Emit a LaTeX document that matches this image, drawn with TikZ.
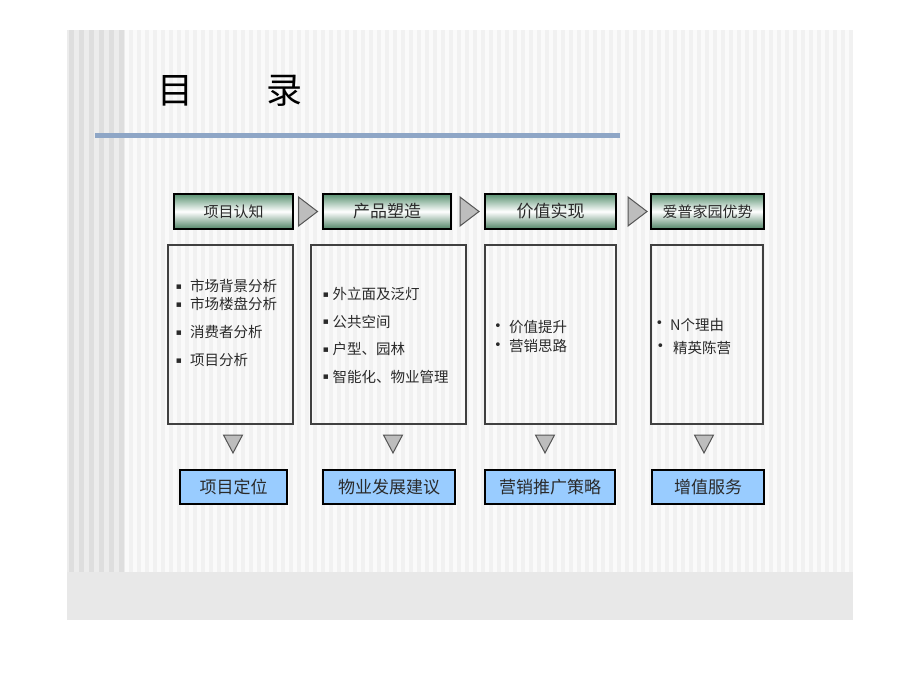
\documentclass[tikz,border=0pt]{standalone}
\usepackage{fontspec}
\setmainfont{Noto Sans CJK SC}
\newfontfamily\sym{DejaVu Sans}
\usetikzlibrary{calc}
\definecolor{hdrgreen}{HTML}{5A9272}
\definecolor{boxblue}{HTML}{99CCFF}
\definecolor{lineblue}{HTML}{8EA6C6}
\definecolor{slidebg}{HTML}{F1F1F1}
\definecolor{stripe}{HTML}{FAFAFA}
\definecolor{leftbg}{HTML}{ECECEC}
\definecolor{leftstripe}{HTML}{DEDEDE}
\definecolor{band}{HTML}{E8E8E8}
\definecolor{txt}{HTML}{2A2A2A}
\definecolor{trifill}{HTML}{BDBDBD}
\definecolor{tridraw}{HTML}{555555}
\begin{document}
\begin{tikzpicture}[x=1pt,y=-1pt,
  hdr/.style={draw=black, line width=2.2pt, top color=hdrgreen, bottom color=hdrgreen!90!black, middle color=white, minimum height=35pt, inner sep=0pt, font=\fontsize{15}{15}\selectfont, text=txt},
  hdrbig/.style={hdr, font=\fontsize{17}{17}\selectfont},
  content/.style={draw=black!75, line width=1.3pt, minimum height=179pt, inner sep=0pt},
  result/.style={draw=black, line width=2.4pt, fill=boxblue, minimum height=34pt, inner sep=0pt, font=\fontsize{17}{17}\selectfont, text=txt},
  item/.style={anchor=west, inner sep=0pt, font=\fontsize{14.5}{14.5}\selectfont, text=txt},
  bul/.style={inner sep=0pt, font=\sym\fontsize{9}{9}\selectfont, text=txt},
  dot/.style={inner sep=0pt, font=\sym\fontsize{13}{13}\selectfont, text=txt},
  tri/.style={fill=trifill, draw=tridraw, line width=1pt, line join=miter},
  titlechar/.style={inner sep=0pt, font=\fontsize{36}{36}\selectfont, text=black}
]
% page
\useasboundingbox (0,0) rectangle (920,690);
\fill[white] (0,0) rectangle (920,690);
% slide background with stripes
\fill[slidebg] (67,30) rectangle (853,572);
\foreach \x in {125,133,...,849} {\fill[stripe] (\x,30) rectangle (\x+3.5,572);}
\fill[leftbg] (67,30) rectangle (125,572);
\foreach \x in {69,79,...,119} {\fill[leftstripe] (\x,30) rectangle (\x+5,572);}
\fill[band] (67,572) rectangle (853,620);
% title
\node[titlechar] (tA) at (175,91) {目};
\node[titlechar] (tB) at (284,91) {录};
\coordinate (lA) at (95,135);
\coordinate (lB) at (620,135);
\draw[lineblue, line width=5pt] (lA) -- (lB);
% header boxes
\node[hdr, minimum width=119pt] (h1) at (233.5,211.5) {项目认知};
\node[hdrbig, minimum width=128pt] (h2) at (387,211.5) {产品塑造};
\node[hdrbig, minimum width=131pt] (h3) at (550.5,211.5) {价值实现};
\node[hdr, minimum width=113pt] (h4) at (707.5,211.5) {爱普家园优势};
% right-pointing triangles
\coordinate (r1) at (308,211.5);
\coordinate (r2) at (469.5,211.5);
\coordinate (r3) at (637.5,211.5);
\foreach \r in {r1,r2,r3} {
  \filldraw[tri] ($(\r)+(-9.5,-14.5)$) -- ($(\r)+(9.5,0)$) -- ($(\r)+(-9.5,14.5)$) -- cycle;
}
% content boxes
\node[content, minimum width=125pt] (c1) at (230.5,334.5) {};
\node[content, minimum width=155pt] (c2) at (388.5,334.5) {};
\node[content, minimum width=131pt] (c3) at (550.5,334.5) {};
\node[content, minimum width=112pt] (c4) at (707,334.5) {};
% box 1 items
\node[bul] (b1a) at (179,287) {▪};
\node[item] (i1a) at (190,286) {市场背景分析};
\node[bul] (b1b) at (179,305) {▪};
\node[item] (i1b) at (190,304) {市场楼盘分析};
\node[bul] (b1c) at (179,333) {▪};
\node[item] (i1c) at (190,332) {消费者分析};
\node[bul] (b1d) at (179,361) {▪};
\node[item] (i1d) at (190,360) {项目分析};
% box 2 items
\node[bul] (b2a) at (326,295) {▪};
\node[item] (i2a) at (332.5,294) {外立面及泛灯};
\node[bul] (b2b) at (326,322.5) {▪};
\node[item] (i2b) at (332.5,321.5) {公共空间};
\node[bul] (b2c) at (326,350) {▪};
\node[item] (i2c) at (332.5,349) {户型、园林};
\node[bul] (b2d) at (326,377.5) {▪};
\node[item] (i2d) at (332.5,376.5) {智能化、物业管理};
% box 3 items
\node[dot] (b3a) at (498,327) {•};
\node[item] (i3a) at (509,327) {价值提升};
\node[dot] (b3b) at (498,346) {•};
\node[item] (i3b) at (509,346) {营销思路};
% box 4 items
\node[dot] (b4a) at (659.5,324) {•};
\node[item] (i4a) at (670,324.5) {N个理由};
\node[dot] (b4b) at (660.5,347) {•};
\node[item] (i4b) at (673,347.5) {精英陈营};
% down triangles
\coordinate (d1) at (233,444);
\coordinate (d2) at (393,444);
\coordinate (d3) at (545,444);
\coordinate (d4) at (704,444);
\foreach \d in {d1,d2,d3,d4} {
  \filldraw[tri] ($(\d)+(-9.5,-9)$) -- ($(\d)+(9.5,-9)$) -- ($(\d)+(0,9)$) -- cycle;
}
% result boxes
\node[result, minimum width=107pt] (o1) at (233.5,487) {项目定位};
\node[result, minimum width=132pt] (o2) at (389,487) {物业发展建议};
\node[result, minimum width=130pt] (o3) at (550,487) {营销推广策略};
\node[result, minimum width=112pt] (o4) at (708,487) {增值服务};
\end{tikzpicture}
\end{document}
